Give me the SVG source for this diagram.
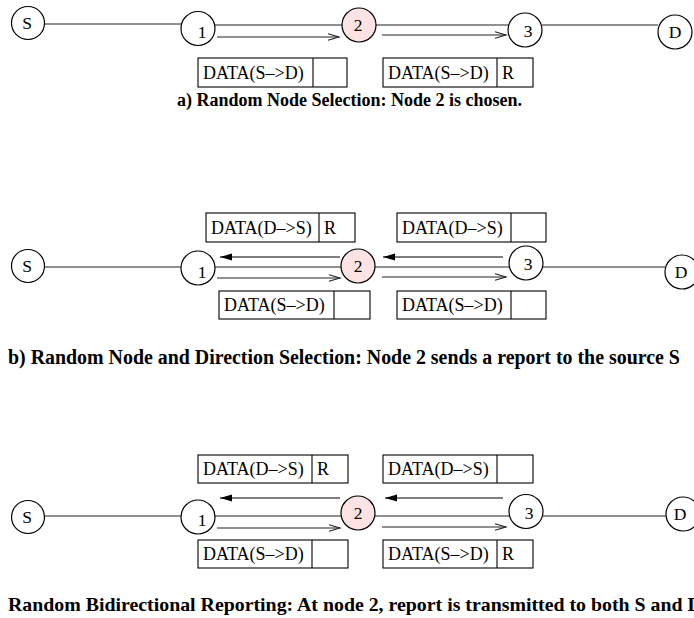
<svg xmlns="http://www.w3.org/2000/svg" width="694" height="618" viewBox="0 0 694 618">
  <style>
    .nd { fill: #ffffff; stroke: #000000; stroke-width: 1.2; }
    .hot { fill: #fde3e3; }
    .lbl { font-family: "Liberation Serif", "Times New Roman", serif; font-size: 17.5px; fill: #000000; text-anchor: middle; }
    .pk rect, .pk line { fill: #ffffff; stroke: #000000; stroke-width: 1.1; }
    .pkt { font-family: "Liberation Serif", "Times New Roman", serif; font-size: 18px; fill: #000000; }
    .link { stroke: #222222; stroke-width: 1.2; fill: none; }
    .fwd { stroke: #222222; stroke-width: 1.2; fill: none; marker-end: url(#stick); }
    .back { stroke: #000000; stroke-width: 1.2; fill: none; marker-end: url(#solid); }
    .cap { font-family: "Liberation Serif", "Times New Roman", serif; font-weight: bold; fill: #000000; }
  </style>
  <defs>
    <marker id="stick" markerUnits="userSpaceOnUse" markerWidth="14" markerHeight="10" refX="12" refY="5" orient="auto">
      <path d="M1,1.8 L12,5 L1,8.2" fill="none" stroke="#222222" stroke-width="1.1"/>
    </marker>
    <marker id="solid" markerUnits="userSpaceOnUse" markerWidth="14" markerHeight="10" refX="12" refY="5" orient="auto">
      <path d="M0,1.6 L12,5 L0,8.4 Z" fill="#000000"/>
    </marker>
  </defs>

  <!-- links and data-flow arrows -->
  <g id="connectors">
    <!-- panel a -->
    <line class="link" x1="44" y1="24" x2="181" y2="24"/>
    <line class="link" x1="215" y1="25" x2="342" y2="25"/>
    <line class="fwd" x1="217" y1="37" x2="339" y2="37"/>
    <line class="link" x1="376" y1="25" x2="509" y2="25"/>
    <line class="fwd" x1="382" y1="35" x2="506" y2="35"/>
    <line class="link" x1="542" y1="25" x2="658" y2="25"/>
    <!-- panel b -->
    <line class="link" x1="44" y1="267" x2="181" y2="267"/>
    <line class="back" x1="340" y1="257" x2="220" y2="257"/>
    <line class="link" x1="215" y1="267" x2="342" y2="267"/>
    <line class="fwd" x1="217" y1="278" x2="340" y2="278"/>
    <line class="back" x1="503" y1="257" x2="383" y2="257"/>
    <line class="link" x1="375" y1="267" x2="510" y2="267"/>
    <line class="fwd" x1="382" y1="277" x2="506" y2="277"/>
    <line class="link" x1="543" y1="267" x2="665" y2="267"/>
    <!-- panel c -->
    <line class="link" x1="44" y1="516" x2="181" y2="516"/>
    <line class="back" x1="340" y1="498" x2="220" y2="498"/>
    <line class="link" x1="215" y1="516" x2="342" y2="516"/>
    <line class="fwd" x1="217" y1="528" x2="340" y2="528"/>
    <line class="back" x1="503" y1="498" x2="385" y2="498"/>
    <line class="link" x1="374" y1="516" x2="510" y2="516"/>
    <line class="fwd" x1="382" y1="527" x2="506" y2="527"/>
    <line class="link" x1="543" y1="516" x2="666" y2="516"/>
  </g>

  <!-- panel a: nodes -->
  <g id="a-S"><circle class="nd" cx="28" cy="23" r="16.5"/><text class="lbl" x="27" y="29">S</text></g>
  <g id="a-n1"><circle class="nd" cx="198" cy="28.5" r="17"/><text class="lbl" x="202" y="38">1</text></g>
  <g id="a-n2"><circle class="nd hot" cx="359" cy="25" r="17"/><text class="lbl" x="358" y="31">2</text></g>
  <g id="a-n3"><circle class="nd" cx="525" cy="30" r="17"/><text class="lbl" x="528" y="37">3</text></g>
  <g id="a-D"><circle class="nd" cx="675" cy="32" r="17"/><text class="lbl" x="675" y="38">D</text></g>
  <!-- panel a: packets -->
  <g id="a-pk1" class="pk"><rect x="198" y="58" width="149" height="29"/><line x1="313" y1="58" x2="313" y2="87"/><text class="pkt" x="203" y="79">DATA(S–&gt;D)</text></g>
  <g id="a-pk2" class="pk"><rect x="383" y="58" width="150" height="29"/><line x1="497" y1="58" x2="497" y2="87"/><text class="pkt" x="388" y="79">DATA(S–&gt;D)</text><text class="pkt" x="502" y="79">R</text></g>
  <text id="cap-a" class="cap" x="177" y="106" font-size="18">a) Random Node Selection: Node 2 is chosen.</text>

  <!-- panel b: nodes -->
  <g id="b-S"><circle class="nd" cx="28" cy="266" r="16.5"/><text class="lbl" x="27" y="272">S</text></g>
  <g id="b-n1"><circle class="nd" cx="198" cy="268" r="17"/><text class="lbl" x="202" y="278">1</text></g>
  <g id="b-n2"><circle class="nd hot" cx="358" cy="266" r="17"/><text class="lbl" x="358" y="272">2</text></g>
  <g id="b-n3"><circle class="nd" cx="526" cy="263" r="17"/><text class="lbl" x="528" y="270">3</text></g>
  <g id="b-D"><circle class="nd" cx="682" cy="272" r="17"/><text class="lbl" x="681" y="278">D</text></g>
  <!-- panel b: packets -->
  <g id="b-pk1" class="pk"><rect x="206" y="213" width="149" height="29"/><line x1="319" y1="213" x2="319" y2="242"/><text class="pkt" x="211" y="234">DATA(D–&gt;S)</text><text class="pkt" x="324" y="234">R</text></g>
  <g id="b-pk2" class="pk"><rect x="397" y="213" width="149" height="29"/><line x1="511" y1="213" x2="511" y2="242"/><text class="pkt" x="402" y="234">DATA(D–&gt;S)</text></g>
  <g id="b-pk3" class="pk"><rect x="219" y="291" width="151" height="28"/><line x1="334" y1="291" x2="334" y2="319"/><text class="pkt" x="224" y="311">DATA(S–&gt;D)</text></g>
  <g id="b-pk4" class="pk"><rect x="397" y="291" width="149" height="28"/><line x1="511" y1="291" x2="511" y2="319"/><text class="pkt" x="402" y="311">DATA(S–&gt;D)</text></g>
  <text id="cap-b" class="cap" x="8" y="364" font-size="19.9">b) Random Node and Direction Selection: Node 2 sends a report to the source S</text>

  <!-- panel c: nodes -->
  <g id="c-S"><circle class="nd" cx="28" cy="517" r="16.5"/><text class="lbl" x="27" y="523">S</text></g>
  <g id="c-n1"><circle class="nd" cx="198" cy="517" r="17"/><text class="lbl" x="202" y="526">1</text></g>
  <g id="c-n2"><circle class="nd hot" cx="358" cy="513" r="17"/><text class="lbl" x="358" y="519">2</text></g>
  <g id="c-n3"><circle class="nd" cx="526" cy="511.5" r="17"/><text class="lbl" x="529" y="519">3</text></g>
  <g id="c-D"><circle class="nd" cx="683" cy="514" r="17"/><text class="lbl" x="680" y="520">D</text></g>
  <!-- panel c: packets -->
  <g id="c-pk1" class="pk"><rect x="198" y="455" width="150" height="28"/><line x1="312" y1="455" x2="312" y2="483"/><text class="pkt" x="203" y="475">DATA(D–&gt;S)</text><text class="pkt" x="317" y="475">R</text></g>
  <g id="c-pk2" class="pk"><rect x="383" y="455" width="150" height="28"/><line x1="497" y1="455" x2="497" y2="483"/><text class="pkt" x="388" y="475">DATA(D–&gt;S)</text></g>
  <g id="c-pk3" class="pk"><rect x="198" y="540" width="150" height="28"/><line x1="312" y1="540" x2="312" y2="568"/><text class="pkt" x="203" y="560">DATA(S–&gt;D)</text></g>
  <g id="c-pk4" class="pk"><rect x="383" y="540" width="150" height="28"/><line x1="497" y1="540" x2="497" y2="568"/><text class="pkt" x="388" y="560">DATA(S–&gt;D)</text><text class="pkt" x="502" y="560">R</text></g>
  <text id="cap-c" class="cap" x="8" y="611" font-size="19.85">Random Bidirectional Reporting: At node 2, report is transmitted to both S and D</text>
</svg>
